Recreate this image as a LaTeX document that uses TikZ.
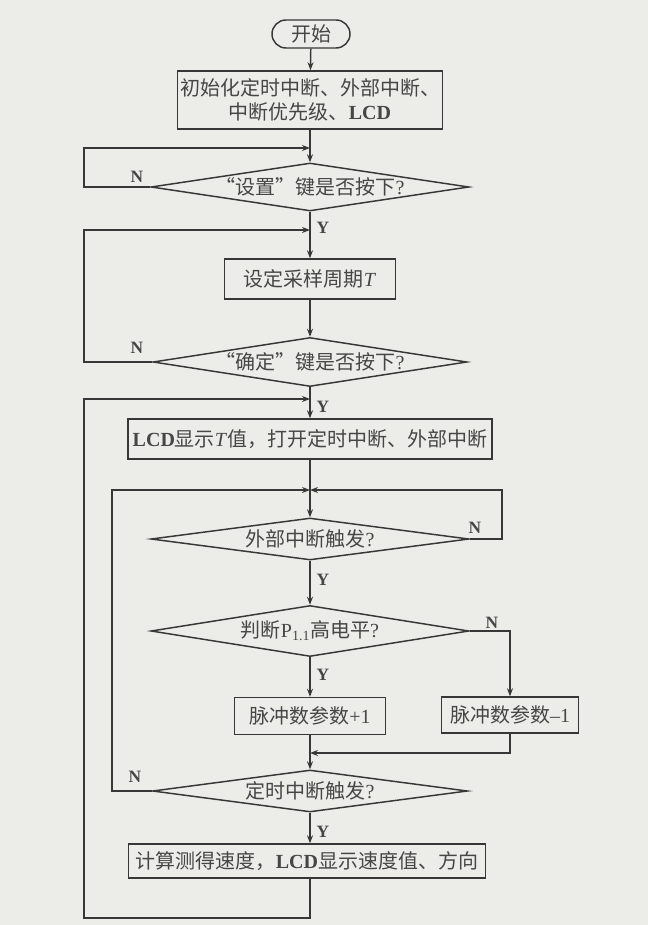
\documentclass[tikz,border=0pt]{standalone}
\usepackage{fontspec}
\setmainfont{Liberation Serif}
\newfontfamily\cjk{Noto Sans CJK SC}
\usetikzlibrary{shapes.geometric,arrows.meta}
\definecolor{paper}{RGB}{236,236,232}
\definecolor{ink}{RGB}{55,55,55}
\definecolor{txt}{RGB}{70,70,70}
\begin{document}
\begin{tikzpicture}[x=0.75pt,y=-0.75pt,
  every node/.style={text=txt},
  proc/.style={draw=ink,line width=1.1pt,rectangle,inner sep=0pt,font=\fontsize{15pt}{18pt}\selectfont,align=center},
  term/.style={proc,rounded corners=10.5pt},
  dec/.style={draw=ink,line width=1.1pt,diamond,inner sep=0pt,font=\fontsize{15pt}{18pt}\selectfont},
  yn/.style={font=\fontsize{13pt}{13pt}\selectfont\bfseries,inner sep=0pt},
  ln/.style={draw=ink,line width=1.1pt},
  arr/.style={ln,-{Stealth[length=6pt,width=4.5pt]}}]
\fill[paper] (0,0) rectangle (648,925);
\useasboundingbox (0,0) rectangle (648,925);

% nodes
\node[term,minimum width=58.5pt,minimum height=21pt] (start) at (311,34) {\cjk 开始};
\node[proc,minimum width=198.75pt,minimum height=43.5pt] (init) at (310,100)
  {{\cjk 初始化定时中断、外部中断、}\\{\cjk 中断优先级、}\textbf{LCD}};
\node[dec,minimum width=238.5pt,minimum height=36pt] (d1) at (310,187)
  {\makebox[0pt]{{\cjk “设置”键是否按下}?}};
\node[proc,minimum width=128.25pt,minimum height=30pt] (box2) at (310,279)
  {{\cjk 设定采样周期}\textit{T}};
\node[dec,minimum width=235.5pt,minimum height=36.75pt] (d2) at (310,362)
  {\makebox[0pt]{{\cjk “确定”键是否按下}?}};
\node[proc,minimum width=273pt,minimum height=30pt] (box3) at (310,439)
  {\textbf{LCD}{\cjk 显示}\textit{T}{\cjk 值，打开定时中断、外部中断}};
\node[dec,minimum width=238.5pt,minimum height=31.5pt] (d3) at (310,539)
  {\makebox[0pt]{{\cjk 外部中断触发}?}};
\node[dec,minimum width=238.5pt,minimum height=38.25pt] (d4) at (310,631)
  {\makebox[0pt]{{\cjk 判断}P\textsubscript{1.1}{\cjk 高电平}?}};
\node[proc,minimum width=113.25pt,minimum height=27.75pt] (bplus) at (310,716)
  {{\cjk 脉冲数参数}+1};
\node[proc,minimum width=102.75pt,minimum height=27pt] (bminus) at (510,715)
  {{\cjk 脉冲数参数}--1};
\node[dec,minimum width=236.25pt,minimum height=31.5pt] (d5) at (310,791)
  {\makebox[0pt]{{\cjk 定时中断触发}?}};
\node[proc,minimum width=267.75pt,minimum height=25.5pt] (box5) at (307,861)
  {{\cjk 计算测得速度，}\textbf{LCD}{\cjk 显示速度值、方向}};

% junction / corner coordinates
\coordinate (j1) at (310,148);
\coordinate (l1) at (84,148);
\coordinate (j2) at (310,230);
\coordinate (l2) at (84,230);
\coordinate (j3) at (310,399);
\coordinate (l3) at (84,399);
\coordinate (j4) at (310,490);
\coordinate (l4) at (112,490);
\coordinate (r4) at (502,490);
\coordinate (j5) at (310,753);
\coordinate (bot) at (84,918);
\coordinate (b5) at (310,918);
\coordinate (b5top) at (310,878);

% connectors
\draw[arr] (start) -- (init);
\draw[arr] (init) -- (d1);
\draw[arr] (d1.west) -| (l1) -- (j1);
\draw[arr] (d1) -- (box2);
\draw[arr] (box2) -- (d2);
\draw[arr] (d2.west) -| (l2) -- (j2);
\draw[arr] (d2) -- (box3);
\draw[arr] (box3) -- (d3);
\draw[arr] (d3.east) -| (r4) -- (j4);
\draw[arr] (d5.west) -| (l4) -- (j4);
\draw[arr] (d3) -- (d4);
\draw[arr] (d4) -- (bplus);
\draw[arr] (d4.east) -| (bminus.north);
\draw[arr] (bplus) -- (d5);
\draw[arr] (bminus.south) |- (j5);
\draw[arr] (d5.south) -- (d5.south |- box5.north);
\draw[arr] (b5top) -- (b5) -- (bot) -- (l3) -- (j3);

% labels
\node[yn] (n1) at (137,177) {N};
\node[yn] (y1) at (323,228) {Y};
\node[yn] (n2) at (137,348) {N};
\node[yn] (y2) at (323,407) {Y};
\node[yn] (n3) at (475,528) {N};
\node[yn] (y3) at (323,580) {Y};
\node[yn] (n4) at (492,623) {N};
\node[yn] (y4) at (323,675) {Y};
\node[yn] (n5) at (135,777) {N};
\node[yn] (y5) at (323,832) {Y};
\end{tikzpicture}
\end{document}
